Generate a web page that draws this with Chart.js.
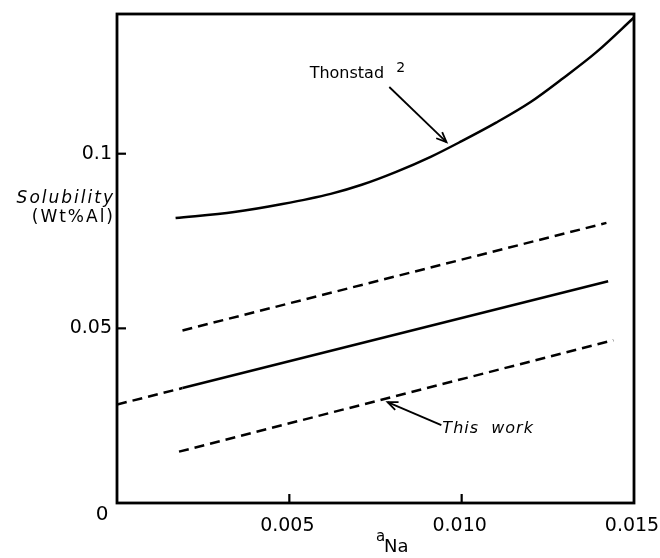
<!DOCTYPE html>
<html>
<head>
<meta charset="utf-8">
<script src="https://cdn.jsdelivr.net/npm/chart.js@4.4.1/dist/chart.umd.min.js"></script>
<style>
  html, body { margin: 0; padding: 0; background: #fff; }
  #wrap { width: 660px; height: 558px; }
</style>
</head>
<body>
<div id="wrap"><canvas id="chart" width="660" height="558"></canvas></div>
<script>
// tick values / labels
const xTickValues = [0.005, 0.010, 0.015];
const xTickLabels = ['0.005', '0.010', '0.015'];
const yTickValues = [0.05, 0.1];
const yTickLabels = ['0.05', '0.1'];

// Thonstad curve (solid)
const thonstadX = [0.0017, 0.0034, 0.0048, 0.0062, 0.0071, 0.0081, 0.0091, 0.0100, 0.0110, 0.0120, 0.0129, 0.0139, 0.0150];
const thonstadY = [0.0816, 0.0833, 0.0856, 0.0885, 0.0911, 0.0948, 0.0991, 0.1036, 0.1089, 0.1148, 0.1213, 0.1290, 0.1390];

// this work: upper bound (dashed), fit (solid + dashed extrapolation), lower bound (dashed)
const upperX = [0.0019, 0.0142];
const upperY = [0.0494, 0.0802];
const fitExtrapX = [0.0, 0.0019];
const fitExtrapY = [0.0282, 0.0329];
const fitX = [0.0019, 0.01425];
const fitY = [0.0329, 0.0635];
const lowerX = [0.0018, 0.0144];
const lowerY = [0.0147, 0.0466];

const pts = (xs, ys) => xs.map((x, i) => ({ x: x, y: ys[i] }));

const FONT = '"DejaVu Sans", sans-serif';

const line = (data, dashed, smooth) => ({
  data: data,
  showLine: true,
  borderColor: '#000',
  borderWidth: 2.5,
  borderDash: dashed ? [10, 6] : [],
  pointRadius: 0,
  tension: smooth ? 0.4 : 0,
  cubicInterpolationMode: smooth ? 'monotone' : 'default',
  fill: false
});

const arrow = (ctx, x1, y1, x2, y2) => {
  ctx.beginPath();
  ctx.moveTo(x1, y1);
  ctx.lineTo(x2, y2);
  ctx.stroke();
  const a = Math.atan2(y2 - y1, x2 - x1);
  const L = 11;
  ctx.beginPath();
  ctx.moveTo(x2 - L * Math.cos(a - 0.4), y2 - L * Math.sin(a - 0.4));
  ctx.lineTo(x2, y2);
  ctx.lineTo(x2 - L * Math.cos(a + 0.4), y2 - L * Math.sin(a + 0.4));
  ctx.stroke();
};

const decor = {
  id: 'decor',
  afterDraw(chart) {
    const { ctx, chartArea: a, scales: { x, y } } = chart;
    ctx.save();
    ctx.strokeStyle = '#000';
    ctx.fillStyle = '#000';
    ctx.lineWidth = 2.8;
    ctx.strokeRect(a.left, a.top, a.right - a.left, a.bottom - a.top);

    // inward tick marks
    ctx.lineWidth = 2.2;
    yTickValues.forEach(v => {
      const py = y.getPixelForValue(v);
      ctx.beginPath(); ctx.moveTo(a.left, py); ctx.lineTo(a.left + 9, py); ctx.stroke();
    });
    xTickValues.slice(0, 2).forEach(v => {
      const px = x.getPixelForValue(v);
      ctx.beginPath(); ctx.moveTo(px, a.bottom); ctx.lineTo(px, a.bottom - 9); ctx.stroke();
    });

    // origin label
    ctx.font = '20px ' + FONT;
    ctx.textAlign = 'center';
    ctx.textBaseline = 'middle';
    ctx.fillText('0', a.left - 15, a.bottom + 12);

    // y title
    ctx.textAlign = 'right';
    ctx.textBaseline = 'alphabetic';
    ctx.letterSpacing = '2px';
    ctx.font = 'italic 17px ' + FONT;
    ctx.fillText('Solubility', a.left - 2, 203);
    ctx.font = '17px ' + FONT;
    ctx.fillText('(Wt%Al)', a.left - 2, 222);

    // x title
    ctx.letterSpacing = '0px';
    ctx.textAlign = 'left';
    ctx.font = '15px ' + FONT;
    ctx.fillText('a', 376, 541);
    ctx.font = '18px ' + FONT;
    ctx.fillText('Na', 384, 552);

    // annotations
    ctx.font = '16px ' + FONT;
    ctx.fillText('Thonstad', x.getPixelForValue(0.00559), y.getPixelForValue(0.1218));
    ctx.font = '14px ' + FONT;
    ctx.fillText('2', x.getPixelForValue(0.0081), y.getPixelForValue(0.1234));
    ctx.lineWidth = 1.8;
    arrow(ctx, x.getPixelForValue(0.0079), y.getPixelForValue(0.1191),
               x.getPixelForValue(0.00956), y.getPixelForValue(0.1033));

    ctx.font = 'italic 16px ' + FONT;
    ctx.letterSpacing = '1px';
    ctx.fillText('This  work', x.getPixelForValue(0.00944), y.getPixelForValue(0.0200));
    arrow(ctx, x.getPixelForValue(0.00941), y.getPixelForValue(0.0223),
               x.getPixelForValue(0.00785), y.getPixelForValue(0.0289));
    ctx.restore();
  }
};

new Chart(document.getElementById('chart'), {
  type: 'scatter',
  data: {
    datasets: [
      line(pts(thonstadX, thonstadY), false, true),
      line(pts(upperX, upperY), true, false),
      line(pts(fitExtrapX, fitExtrapY), true, false),
      line(pts(fitX, fitY), false, false),
      line(pts(lowerX, lowerY), true, false)
    ]
  },
  options: {
    responsive: false,
    animation: false,
    layout: { padding: { top: 14, right: 26, left: 0, bottom: 0 } },
    plugins: { legend: { display: false }, tooltip: { enabled: false } },
    scales: {
      x: {
        type: 'linear',
        min: 0,
        max: 0.015,
        afterBuildTicks: s => { s.ticks = xTickValues.map(v => ({ value: v })); },
        afterFit: s => { s.height = 55; s.paddingLeft = 0; s.paddingRight = 0; },
        grid: { display: false, drawTicks: false },
        border: { display: false },
        ticks: {
          padding: 12,
          labelOffset: -2,
          color: '#000',
          font: { family: FONT, size: 19 },
          maxRotation: 0,
          callback: v => xTickLabels[xTickValues.indexOf(v)]
        }
      },
      y: {
        type: 'linear',
        min: 0,
        max: 0.14,
        afterBuildTicks: s => { s.ticks = yTickValues.map(v => ({ value: v })); },
        afterFit: s => { s.width = 117; s.paddingTop = 0; s.paddingBottom = 0; },
        grid: { display: false, drawTicks: false },
        border: { display: false },
        ticks: {
          padding: 5,
          color: '#000',
          font: { family: FONT, size: 19 },
          callback: v => yTickLabels[yTickValues.indexOf(v)]
        }
      }
    }
  },
  plugins: [decor]
});
</script>
</body>
</html>
